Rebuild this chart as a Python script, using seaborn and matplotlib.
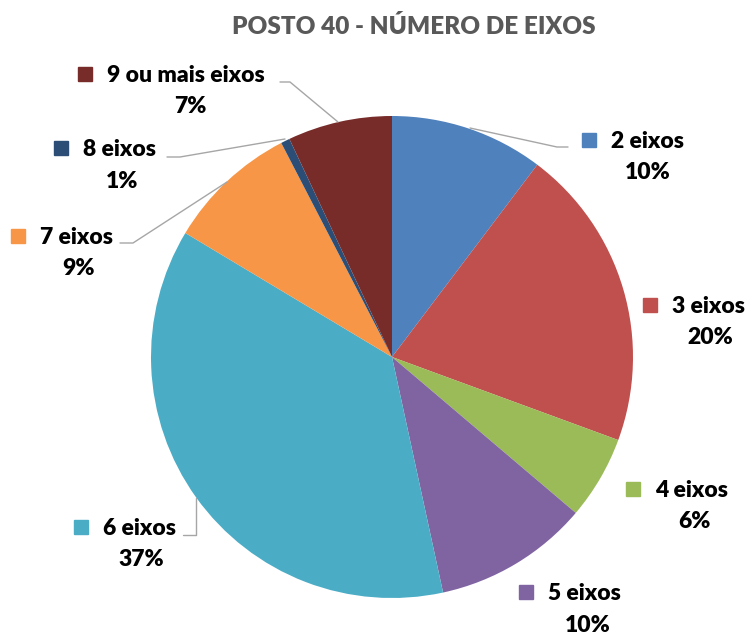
import matplotlib
matplotlib.use("Agg")
import matplotlib.pyplot as plt
import seaborn as sns

# dados (% por número de eixos)
categorias = ["2 eixos", "3 eixos", "4 eixos", "5 eixos", "6 eixos",
              "7 eixos", "8 eixos", "9 ou mais eixos"]
valores = [10.3, 20.3, 5.6, 10.4, 37.0, 8.8, 0.6, 7.0]
cores = ["#4F81BD", "#C0504D", "#9BBB59", "#8064A2", "#4BACC6",
         "#F79646", "#2C4D75", "#772C2A"]
titulo = "POSTO 40 - NÚMERO DE EIXOS"

sns.set_theme(style="white")
plt.rcParams['font.family'] = ['Lato', 'DejaVu Sans']

W, H = 752, 637
CX, CY, R = 392, 357, 241   # centro e raio da pizza em pixels


def px(x, y):
    """pixel (origem no topo) -> coordenadas de dados"""
    return (x - CX) / R, (CY - y) / R


fig = plt.figure(figsize=(W / 100, H / 100), dpi=100)
ax = fig.add_axes([0, 0, 1, 1])

ax.pie(valores, colors=cores, startangle=90, counterclock=False,
       radius=1, wedgeprops=dict(linewidth=0))

# pie() mexe nos limites, entao define depois
ax.set_xlim(-CX / R, (W - CX) / R)
ax.set_ylim(-(H - CY) / R, CY / R)
ax.set_aspect('equal')
ax.axis('off')

# posição dos rótulos: (x esquerda do nome, linha base nome, centro x do %, linha base %)
layout = {
    "2 eixos": (611, 148, 648, 179),
    "3 eixos": (672, 313, 710, 344),
    "4 eixos": (655, 497, 694, 528),
    "5 eixos": (548, 600, 588, 632),
    "6 eixos": (103, 535, 141, 566),
    "7 eixos": (40, 244, 78, 275),
    "8 eixos": (83, 156, 122, 188),
    "9 ou mais eixos": (107, 82, 190, 113),
}

fs = 16.5
for cat, val, cor in zip(categorias, valores, cores):
    nx, ny, pcx, pcy = layout[cat]
    ax.text(*px(nx, ny), cat, fontsize=fs, fontweight='heavy', color='black',
            ha='left', va='baseline')
    ax.text(*px(pcx, pcy), f"{val:.0f}%", fontsize=fs, fontweight='heavy',
            color='black', ha='center', va='baseline')
    mx, my = px(nx - 22, ny - 8)
    ax.plot(mx, my, marker='s', markersize=10.5, color=cor, linestyle='none')

# linhas de chamada
chamadas = [
    [(280, 82), (290, 82), (338, 122)],
    [(167, 157), (180, 157), (285, 139)],
    [(120, 243), (133, 243), (227, 182)],
    [(470, 128), (557, 147), (568, 147)],
    [(183, 535), (196, 535), (196, 498)],
]
for pts in chamadas:
    xs, ys = zip(*[px(x, y) for x, y in pts])
    ax.plot(xs, ys, color='#A6A6A6', linewidth=1)

ax.text(*px(414, 34), titulo, fontsize=17.5, fontweight='heavy', color='#595959',
        ha='center', va='baseline')

fig.savefig("out.png", dpi=100)
